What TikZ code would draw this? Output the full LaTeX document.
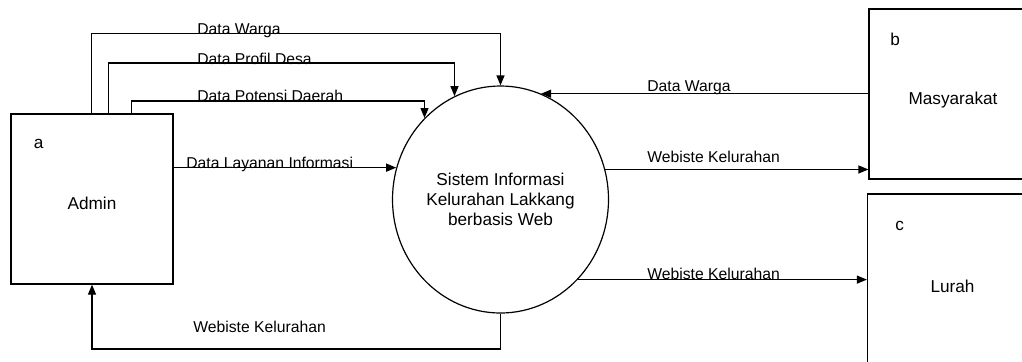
\documentclass[tikz,border=0pt]{standalone}
\usepackage{fontspec}
\setmainfont{Liberation Sans}
\usetikzlibrary{arrows.meta, shapes.geometric, positioning}

\tikzset{
   entity/.style={draw, line width=0.6pt, inner sep=0pt, text height=10pt, text depth=0pt,
      font=\fontsize{8.6}{10}\selectfont},
   process/.style={draw, ellipse, line width=0.6pt, inner sep=0pt, minimum width=108pt,
      minimum height=113.5pt, align=center, font=\fontsize{8.6}{10}\selectfont},
   flow/.style={line width=0.6pt, -{Triangle[length=5pt, width=4pt]}},
   flowlabel/.style={anchor=base west, inner sep=0pt, font=\fontsize{7.85}{9.4}\selectfont},
   tag/.style={anchor=base west, inner sep=0pt, font=\fontsize{8.6}{10}\selectfont}
}

\begin{document}
\begin{tikzpicture}[x=0.5pt, y=-0.5pt]
            \useasboundingbox (0,0) rectangle (1022,361);
            \clip (0,0) rectangle (1022,361);
            % External entities
            \node[entity, minimum width=81pt, minimum height=85pt] (admin) at (92,199) {Admin};
            \node[entity, minimum width=84pt, minimum height=85pt] (masy) at (953,94) {Masyarakat};
            \node[entity, minimum width=85pt, minimum height=88pt] (lurah) at (952.5,282) {Lurah};
            \node[tag] (taga) at (33.5,148.3) {a};
            \node[tag] (tagb) at (890,45) {b};
            \node[tag] (tagc) at (895,230) {c};
            % Process
            \node[process] (sis) at (500.5,199.5) {Sistem Informasi\\Kelurahan Lakkang\\berbasis Web};
            % Admin -> system (top flows)
            \draw[flow] (admin.north -| 91.7,0) |- (sis.north |- 0,33.7) -- (sis.north);
            \draw[flow] (admin.north -| 108.3,0) |- (sis.114.4 |- 0,63) -- (sis.114.4);
            \draw[flow] (admin.north -| 131.7,0) |- (sis.133.7 |- 0,101) -- (sis.133.7);
            \draw[flow] (sis.163 -| admin.east) -- (sis.163);
            \node[flowlabel] (lwarga) at (197,34) {Data Warga};
            \node[flowlabel] (lprofil) at (197,64.5) {Data Profil Desa};
            \node[flowlabel] (lpotensi) at (197,101.5) {Data Potensi Daerah};
            \node[flowlabel] (llayanan) at (186,168) {Data Layanan Informasi};
            % Masyarakat <-> system
            \draw[flow] (sis.69 -| masy.west) -- (sis.69);
            \draw[flow] (sis.16) -- (sis.16 -| masy.west);
            \node[flowlabel] (lwargab) at (647,91.3) {Data Warga};
            \node[flowlabel] (lwebb) at (647,162.7) {Webiste Kelurahan};
            % Lurah
            \draw[flow] (sis.-46.5) -- (sis.-46.5 -| lurah.west);
            \node[flowlabel] (lwebc) at (647,279.5) {Webiste Kelurahan};
            % Back to admin
            \draw[flow] (sis.south) |- (admin.south |- 0,349) -- (admin.south);
            \node[flowlabel] (lweba) at (193,332.3) {Webiste Kelurahan};
\end{tikzpicture}
\end{document}
